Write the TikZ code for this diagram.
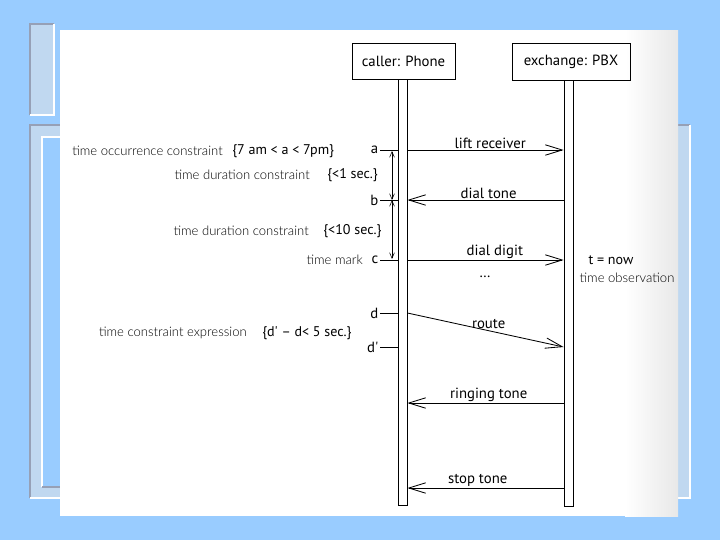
\documentclass[tikz,border=0pt]{standalone}
\usepackage{fontspec}
\setmainfont{PT Sans}
\newfontfamily\lightfont{Lato Light}
\usetikzlibrary{arrows.meta,positioning}

\begin{document}
\begin{tikzpicture}[x=0.025cm,y=-0.025cm,
  objbox/.style={draw,line width=0.6pt,inner sep=0pt,font=\fontsize{10.5}{12}\selectfont},
  bar/.style={draw,line width=0.6pt,fill=white,minimum width=0.225cm,inner sep=0pt},
  msg/.style={line width=0.6pt,-{Straight Barb[length=4.2mm,width=2.6mm]}},
  dim/.style={line width=0.4pt,{Straight Barb[length=1.4mm,width=1.2mm]}-{Straight Barb[length=1.4mm,width=1.2mm]}},
  lbl/.style={font=\fontsize{10.5}{12}\selectfont,inner sep=1pt},
  cons/.style={font=\fontsize{10}{12}\selectfont,inner sep=0pt},
  note/.style={font=\lightfont\fontsize{9.3}{11}\selectfont,inner sep=0pt},
  tick/.style={line width=0.6pt}]

% === Colors ===
\definecolor{slideblue}{RGB}{153,204,255}
\definecolor{panelfill}{RGB}{192,216,240}
\definecolor{paneledge}{RGB}{150,160,182}

\useasboundingbox (0,0) rectangle (720,540);
\fill[slideblue] (0,0) rectangle (720,540);

% === Slide panels ===
\fill[panelfill] (30,24) rectangle (54,115);
\draw[paneledge, line width=1pt] (30,115) -- (30,24) -- (54,24);
\draw[white, line width=1pt] (54,24) -- (54,115) -- (30,115);
\fill[panelfill] (30,125) rectangle (690,498);
\draw[paneledge, line width=1pt] (30,498) -- (30,125) -- (690,125);
\draw[white, line width=1pt] (690,125) -- (690,498) -- (30,498);
\fill[slideblue] (42,137) rectangle (670,487);
\draw[white, line width=1pt] (42,487) -- (42,137) -- (670,137);
\draw[paneledge, line width=1pt] (42,487) -- (670,487);

% === Scanned page ===
\fill[white] (60,30) rectangle (678,516);
\shade[left color=white, right color=black!9] (625,30) rectangle (678,516);

% === Objects and lifelines ===
\node[objbox, minimum width=2.575cm, minimum height=0.9cm] (caller) at (403.5,61) {caller: Phone};
\node[objbox, minimum width=2.95cm, minimum height=0.925cm] (exch) at (571,61.5) {exchange: PBX};
\node[bar, minimum height=10.65cm, anchor=north] (callbar) at (402.5,79) {};
\node[bar, minimum height=10.65cm, anchor=north] (exchbar) at (568.5,80) {};

\foreach \n/\y in {a/150,b/200,c/260,d/313,e/347,f/403,g/488}{
  \coordinate (L\n) at (callbar.east |- 0,\y);
  \coordinate (R\n) at (exchbar.west |- 0,\y);
}

% === Messages ===
\draw[msg] (La) -- node[lbl, above, pos=0.53] {lift receiver} (Ra);
\draw[msg] (Rb) -- node[lbl, above, pos=0.48] {dial tone} (Lb);
\draw[msg] (Lc) -- node[lbl, above, pos=0.56] {dial digit} (Rc);
\draw[msg] (Ld) -- node[lbl, above, pos=0.52] {route} (Re);
\draw[msg] (Rf) -- node[lbl, above, pos=0.48] {ringing tone} (Lf);
\draw[msg] (Rg) -- node[lbl, above, pos=0.55] {stop tone} (Lg);
\node[lbl] (dots) at (485,277) {\dots};

% === Time marks ===
\foreach \n/\t/\y in {ma/a/150,mb/b/200,mc/c/260,md/d/313,me/d\textquotesingle/347}{
  \node[lbl, anchor=east] (\n) at (380,\y) {\t};
  \draw[tick] (\n.east) -- (callbar.west |- \n.east);
}
\coordinate (ka) at (392,151);
\coordinate (kb) at (392,200);
\coordinate (kc) at (392,259);
\draw[dim] (ka) -- (kb);
\draw[dim] (kb) -- (kc);

% === Constraints ===
\node[note, anchor=east] (occ) at (223,151) {time occurrence constraint};
\node[cons, anchor=west] (occv) at (232,151) {\{7 am < a < 7pm\}};
\node[note, anchor=east] (dur1) at (310,175) {time duration constraint};
\node[cons, anchor=west] (dur1v) at (327,175) {\{<1 sec.\}};
\node[note, anchor=east] (dur2) at (309,231) {time duration constraint};
\node[cons, anchor=west] (dur2v) at (323,231) {\{<10 sec.\}};
\node[note, anchor=east] (tmark) at (363,260) {time mark};
\node[note, anchor=east] (expr) at (247,333) {time constraint expression};
\node[cons, anchor=west] (exprv) at (262,333) {\{d\textquotesingle{} – d< 5 sec.\}};
\node[cons] (tnow) at (611,260) {t = now};
\node[note] (tobs) at (627,278) {time observation};

\end{tikzpicture}
\end{document}
